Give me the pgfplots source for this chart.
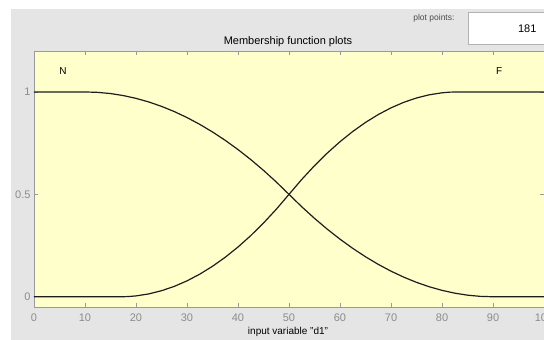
\documentclass[border=0pt]{standalone}
\usepackage{pgfplots}
\pgfplotsset{compat=1.18}
\usepackage{fontspec}
\setmainfont{Liberation Sans}

\definecolor{panel}{HTML}{E5E5E5}
\definecolor{plotbg}{HTML}{FFFFCC}
\definecolor{spine}{HTML}{9A9A9A}
\definecolor{ticktext}{HTML}{8C8C8C}
\definecolor{curve}{HTML}{1E1E1E}

\begin{document}
\begin{tikzpicture}[x=1pt,y=1pt]
  % window panel
  \fill[white] (0,0) rectangle (544,340);
  \fill[panel] (11,0) rectangle (548,331);

  % "plot points" control
  \node[anchor=east, font=\fontsize{8.5}{10}\selectfont, text=black!70] at (458,322) {plot points:};
  \draw[fill=white, draw=black!30] (468.5,295.5) rectangle (550,328);
  \node[anchor=east, font=\fontsize{11}{13}\selectfont] at (540,311) {181};

  % title
  \node[font=\fontsize{11}{13}\selectfont] at (288,298) {Membership function plots};

  \begin{axis}[
    at={(34pt,33pt)}, anchor=south west,
    scale only axis, width=510pt, height=256pt,
    xmin=0, xmax=100, ymin=-0.05, ymax=1.2,
    axis background/.style={fill=plotbg},
    axis line style={spine, line width=0.9pt},
    tick style={spine, line width=0.8pt},
    tick align=inside, tick pos=both,
    major tick length=4pt,
    xtick={0,10,...,100}, ytick={0,0.5,1},
    yticklabels={0,0.5,1},
    ticklabel style={font=\fontsize{11}{13}\selectfont, text=ticktext},
    xticklabel style={yshift=-3pt},
    /pgf/number format/assume math mode=true,
    clip=false,
  ]
    % N: Z-shaped membership function
    \addplot[curve, line width=1.2pt] coordinates {
      (0,1) (10,1) (12.5,0.998) (15,0.9922) (17.5,0.9824) (20,0.96875)
      (22.5,0.95117) (25,0.92969) (27.5,0.90430) (30,0.875) (32.5,0.84180)
      (35,0.80469) (37.5,0.76367) (40,0.71875) (42.5,0.66992) (45,0.61719)
      (47.5,0.56055) (50,0.5) (52.5,0.43945) (55,0.38281) (57.5,0.33008)
      (60,0.28125) (62.5,0.23633) (65,0.19531) (67.5,0.15820) (70,0.125)
      (72.5,0.09570) (75,0.07031) (77.5,0.04883) (80,0.03125) (82.5,0.01758)
      (85,0.00781) (87.5,0.00195) (90,0) (100,0)
    };
    % F: S-shaped membership function
    \addplot[curve, line width=1.2pt] coordinates {
      (0,0) (17,0) (18.5,0.001) (20,0.00413) (22.5,0.01389) (25,0.02938)
      (27.5,0.05062) (30,0.07759) (32.5,0.11031) (35,0.14876) (37.5,0.19296)
      (40,0.24288) (42.5,0.29855) (45,0.35996) (47.5,0.42711) (50,0.5)
      (52.5,0.57289) (55,0.64004) (57.5,0.70145) (60,0.75712) (62.5,0.80704)
      (65,0.85124) (67.5,0.88969) (70,0.92241) (72.5,0.94938) (75,0.97062)
      (77.5,0.98611) (80,0.99587) (81.5,0.999) (83,1) (100,1)
    };
    \node[font=\fontsize{10}{12}\selectfont] at (axis cs:5.7,1.10) {N};
    \node[font=\fontsize{10}{12}\selectfont] at (axis cs:91.2,1.10) {F};
  \end{axis}

  % axis label
  \node[font=\fontsize{10}{12}\selectfont] at (288,8) {input variable "d1"};

  \pgfresetboundingbox
  \useasboundingbox (0,0) rectangle (544,340);
\end{tikzpicture}
\end{document}
